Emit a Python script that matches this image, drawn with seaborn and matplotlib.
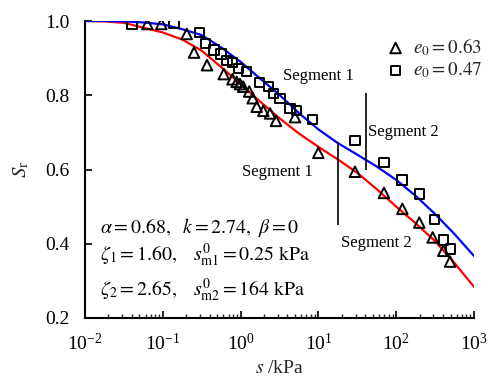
import numpy as np
import pandas as pd
import matplotlib
matplotlib.use("Agg")
import matplotlib.pyplot as plt
from matplotlib.ticker import LogLocator, FixedLocator, NullFormatter
import seaborn as sns

# Measured degree of saturation vs suction, two initial void ratios
s_063 = [0.0632, 0.0957, 0.203, 0.252, 0.370, 0.608, 0.787, 0.891, 0.982, 1.08,
         1.29, 1.43, 1.61, 1.96, 2.39, 2.85, 5.00, 9.98, 29.5, 69.6,
         120, 198, 294, 403, 492]
sr_063 = [0.992, 0.992, 0.965, 0.915, 0.881, 0.857, 0.843, 0.836, 0.830, 0.823,
          0.810, 0.792, 0.769, 0.758, 0.751, 0.731, 0.741, 0.645, 0.594, 0.537,
          0.494, 0.457, 0.417, 0.381, 0.352]
s_047 = [0.0402, 0.139, 0.296, 0.354, 0.455, 0.560, 0.668, 0.787, 0.940, 1.20,
         1.74, 2.27, 2.63, 3.21, 4.31, 5.26, 8.45, 29.5, 69.6, 119,
         198, 309, 403, 501]
sr_047 = [0.992, 0.993, 0.969, 0.939, 0.922, 0.911, 0.894, 0.888, 0.873, 0.863,
          0.834, 0.823, 0.805, 0.792, 0.765, 0.758, 0.735, 0.679, 0.618, 0.572,
          0.534, 0.466, 0.410, 0.386]

# Model curves (bimodal fit), sampled along suction
s_fit = [0.01, 0.0178, 0.0316, 0.0562, 0.1, 0.178, 0.316, 0.562, 1.0, 1.78,
         3.16, 5.62, 10, 17.8, 31.6, 56.2, 100, 178, 316, 562, 1000]
sr_fit_063 = [1.000, 0.999, 0.995, 0.982, 0.969, 0.950, 0.920, 0.876, 0.830, 0.783,
              0.738, 0.697, 0.661, 0.627, 0.591, 0.547, 0.500, 0.455, 0.407, 0.348,
              0.284]
sr_fit_047 = [1.000, 1.000, 0.999, 0.996, 0.991, 0.978, 0.962, 0.929, 0.890, 0.845,
              0.801, 0.752, 0.708, 0.671, 0.640, 0.608, 0.572, 0.529, 0.480, 0.426,
              0.367]

# Segment boundaries
seg_s = [18.0, 41.4]
seg_lo = [0.451, 0.599]
seg_hi = [0.674, 0.807]

legend_labels = [r"$e_0 = 0.63$", r"$e_0 = 0.47$"]

sns.set_style("ticks")
plt.rcParams["font.family"] = ["Liberation Serif", "DejaVu Serif"]
plt.rcParams["mathtext.fontset"] = "stix"

fig = plt.figure(figsize=(4.92, 3.80), dpi=100)
ax = fig.add_axes([85 / 492, 1 - 318 / 380, (474 - 85) / 492, (318 - 21) / 380])
ax.set_xscale("log")

fit_df = pd.DataFrame({"s": s_fit + s_fit,
                       "Sr": sr_fit_063 + sr_fit_047,
                       "e0": ["0.63"] * len(s_fit) + ["0.47"] * len(s_fit)})
sns.lineplot(data=fit_df, x="s", y="Sr", hue="e0",
             palette={"0.63": "#ff0000", "0.47": "#0000ff"},
             linewidth=1.6, legend=False, ax=ax, sort=True, estimator=None)

df063 = pd.DataFrame({"s": s_063, "Sr": sr_063})
df047 = pd.DataFrame({"s": s_047, "Sr": sr_047})
sns.scatterplot(data=df063, x="s", y="Sr", marker="^", s=58,
                facecolors="none", edgecolors="black", linewidth=1.4,
                ax=ax, label=legend_labels[0], legend=False, zorder=3)
sns.scatterplot(data=df047, x="s", y="Sr", marker="s", s=44,
                facecolors="none", edgecolors="black", linewidth=1.4,
                ax=ax, label=legend_labels[1], legend=False, zorder=3)

ax.vlines(seg_s, seg_lo, seg_hi, colors="black", linewidth=1.2)

ax.set_xlim(1e-2, 1e3)
ax.set_ylim(0.2, 1.0)
ax.yaxis.set_major_locator(FixedLocator([0.2, 0.4, 0.6, 0.8, 1.0]))
ax.set_yticklabels(["0.2", "0.4", "0.6", "0.8", "1.0"])
ax.xaxis.set_major_locator(LogLocator(base=10, numticks=10))
ax.xaxis.set_minor_locator(LogLocator(base=10, subs=np.arange(2, 10), numticks=20))
ax.xaxis.set_minor_formatter(NullFormatter())

for side in ["top", "right"]:
    ax.spines[side].set_visible(False)
for side in ["left", "bottom"]:
    ax.spines[side].set_linewidth(1.5)
    ax.spines[side].set_color("black")

ax.tick_params(axis="both", which="major", direction="in", length=5, width=1.2,
               labelsize=14, colors="black")
ax.tick_params(axis="x", which="major", pad=11)
ax.tick_params(axis="y", which="major", pad=11)
ax.tick_params(axis="x", which="minor", direction="in", length=3, width=1.0)

ax.set_xlabel(r"$s$ /kPa", fontsize=14, labelpad=4)
ax.set_ylabel(r"$S_\mathrm{r}$", fontsize=15, labelpad=10)

txt = dict(fontsize=12, color="black", va="center")
ax.text(9.9, 0.852, "Segment 1", ha="center", **txt)
ax.text(43.5, 0.702, "Segment 2", ha="left", **txt)
ax.text(2.94, 0.594, "Segment 1", ha="center", **txt)
ax.text(55, 0.402, "Segment 2", ha="center", **txt)

par = dict(fontsize=14.3, color="black", va="center", ha="left")
ax.text(0.0156, 0.445, r"$\alpha = 0.68,\ \ k = 2.74,\ \beta = 0$", **par)
ax.text(0.0156, 0.370, r"$\zeta_1 = 1.60,\ \ \ s^0_{\mathrm{m1}} = 0.25\ \mathrm{kPa}$", **par)
ax.text(0.0156, 0.275, r"$\zeta_2 = 2.65,\ \ \ s^0_{\mathrm{m2}} = 164\ \mathrm{kPa}$", **par)

handles = [c for c in ax.collections if c.get_label() in legend_labels]
leg = ax.legend(handles=handles, labels=legend_labels, loc="upper left",
                bbox_to_anchor=(386 / 492, 1 - 36 / 380), bbox_transform=fig.transFigure,
                frameon=False, fontsize=13.8, handlelength=1.0, handletextpad=0.4,
                borderpad=0, borderaxespad=0, labelspacing=0.15, scatterpoints=1)

fig.savefig("out.png", dpi=100)
